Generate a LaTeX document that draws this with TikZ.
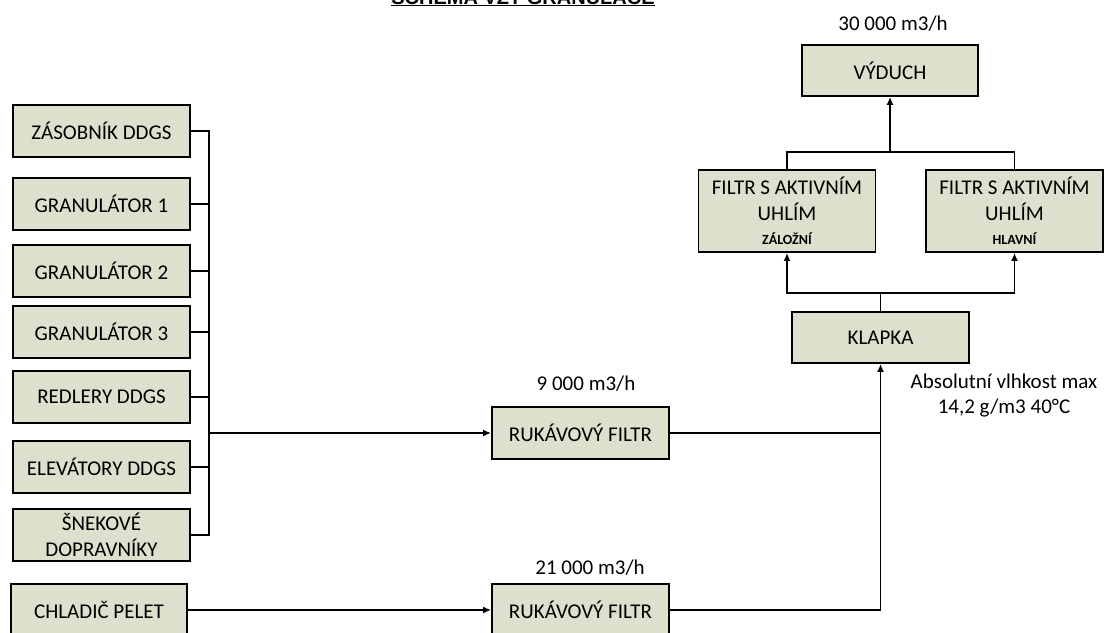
\documentclass[tikz,border=0pt]{standalone}
\usepackage{fontspec}
\setmainfont{Carlito}
\newfontfamily\nadpisfont{Liberation Sans}
\usepackage{tikz}
\usetikzlibrary{
  	positioning,
  	arrows.meta,
  	calc
  }
\definecolor{blokfill}{RGB}{221,224,204}
\tikzstyle{blok}=[draw, line width=1.8pt, fill=blokfill, minimum width=177pt, minimum height=52pt, inner sep=2pt, align=center, font=\fontsize{21}{26}\selectfont]
\tikzstyle{popis}=[anchor=base, inner sep=0pt, align=center, font=\fontsize{21}{25}\selectfont]
\tikzstyle{spoj}=[line width=1.8pt]
\tikzstyle{sipka}=[line width=1.8pt, -{Latex[length=8pt,width=7pt]}]

\begin{document}
\begin{tikzpicture}[x=1pt, y=-1pt]
  	\useasboundingbox (0,0) rectangle (1105,632);
  	\clip (0,0) rectangle (1105,632);
  	\node[anchor=base, inner sep=0pt, font=\nadpisfont\fontsize{20}{24}\selectfont\bfseries] (nadpis) at (523,4) {\underline{SCHÉMA VZT GRANULACE}};
		% zdroje
  	\node[blok] (zasobnik) at (101.5,131) {ZÁSOBNÍK DDGS};
  	\node[blok] (gran1) at (101.5,204) {GRANULÁTOR 1};
  	\node[blok] (gran2) at (101.5,271) {GRANULÁTOR 2};
  	\node[blok] (gran3) at (101.5,332) {GRANULÁTOR 3};
  	\node[blok] (redlery) at (101.5,397) {REDLERY DDGS};
  	\node[blok] (elevatory) at (101.5,467) {ELEVÁTORY DDGS};
  	\node[blok] (snekove) at (101.5,535) {ŠNEKOVÉ\\DOPRAVNÍKY};
  	\node[blok, minimum width=176pt] (chladic) at (99,610) {CHLADIČ PELET};
		% filtry
  	\node[blok] (ruk1) at (580.5,433) {RUKÁVOVÝ FILTR};
  	\node[blok] (ruk2) at (580.5,610) {RUKÁVOVÝ FILTR};
  	\node[blok, minimum height=51pt] (klapka) at (880.5,337.5) {KLAPKA};
  	\node[blok, minimum height=82pt] (zalozni) at (787,211) {FILTR S AKTIVNÍM\\UHLÍM\\[-2pt]{\fontsize{14}{16}\selectfont\bfseries ZÁLOŽNÍ}};
  	\node[blok, minimum height=82pt] (hlavni) at (1014.5,211) {FILTR S AKTIVNÍM\\UHLÍM\\[-2pt]{\fontsize{14}{16}\selectfont\bfseries HLAVNÍ}};
  	\node[blok, minimum width=176pt, minimum height=51pt] (vyduch) at (890,70.5) {VÝDUCH};
		% popisky
  	\node[popis] (prutok3) at (893,30) {30 000 m3/h};
  	\node[popis] (prutok1) at (586,390) {9 000 m3/h};
  	\node[popis] (prutok2) at (590,574) {21 000 m3/h};
  	\node[popis, anchor=center] (vlhkost) at (1004,396) {Absolutní vlhkost max\\14,2 g/m3 40°C};
		% spoje
  	\coordinate (sbernice) at (209,433);
  	\draw[spoj] (zasobnik.east) -- (zasobnik.east -| sbernice) -- (snekove.east -| sbernice) -- (snekove.east);
  	\foreach \z in {gran1, gran2, gran3, redlery, elevatory}
  		\draw[spoj] (\z.east) -- (\z.east -| sbernice);
  	\draw[sipka] (sbernice) -- (ruk1.west);
  	\draw[sipka] (chladic.east) -- (ruk2.west);
  	\draw[spoj] (ruk1.east) -- (ruk1.east -| klapka.south);
  	\draw[sipka] (ruk2.east) -| (klapka.south);
  	\coordinate (rozdel) at (880.5,293);
  	\draw[spoj] (klapka.north) -- (rozdel);
  	\draw[sipka] (rozdel) -| (zalozni.south);
  	\draw[sipka] (rozdel) -| (hlavni.south);
  	\coordinate (soutok) at (890,152);
  	\draw[spoj] (zalozni.north) |- (soutok) -| (hlavni.north);
  	\draw[sipka] (soutok) -- (vyduch.south);
  \end{tikzpicture}
\end{document}
